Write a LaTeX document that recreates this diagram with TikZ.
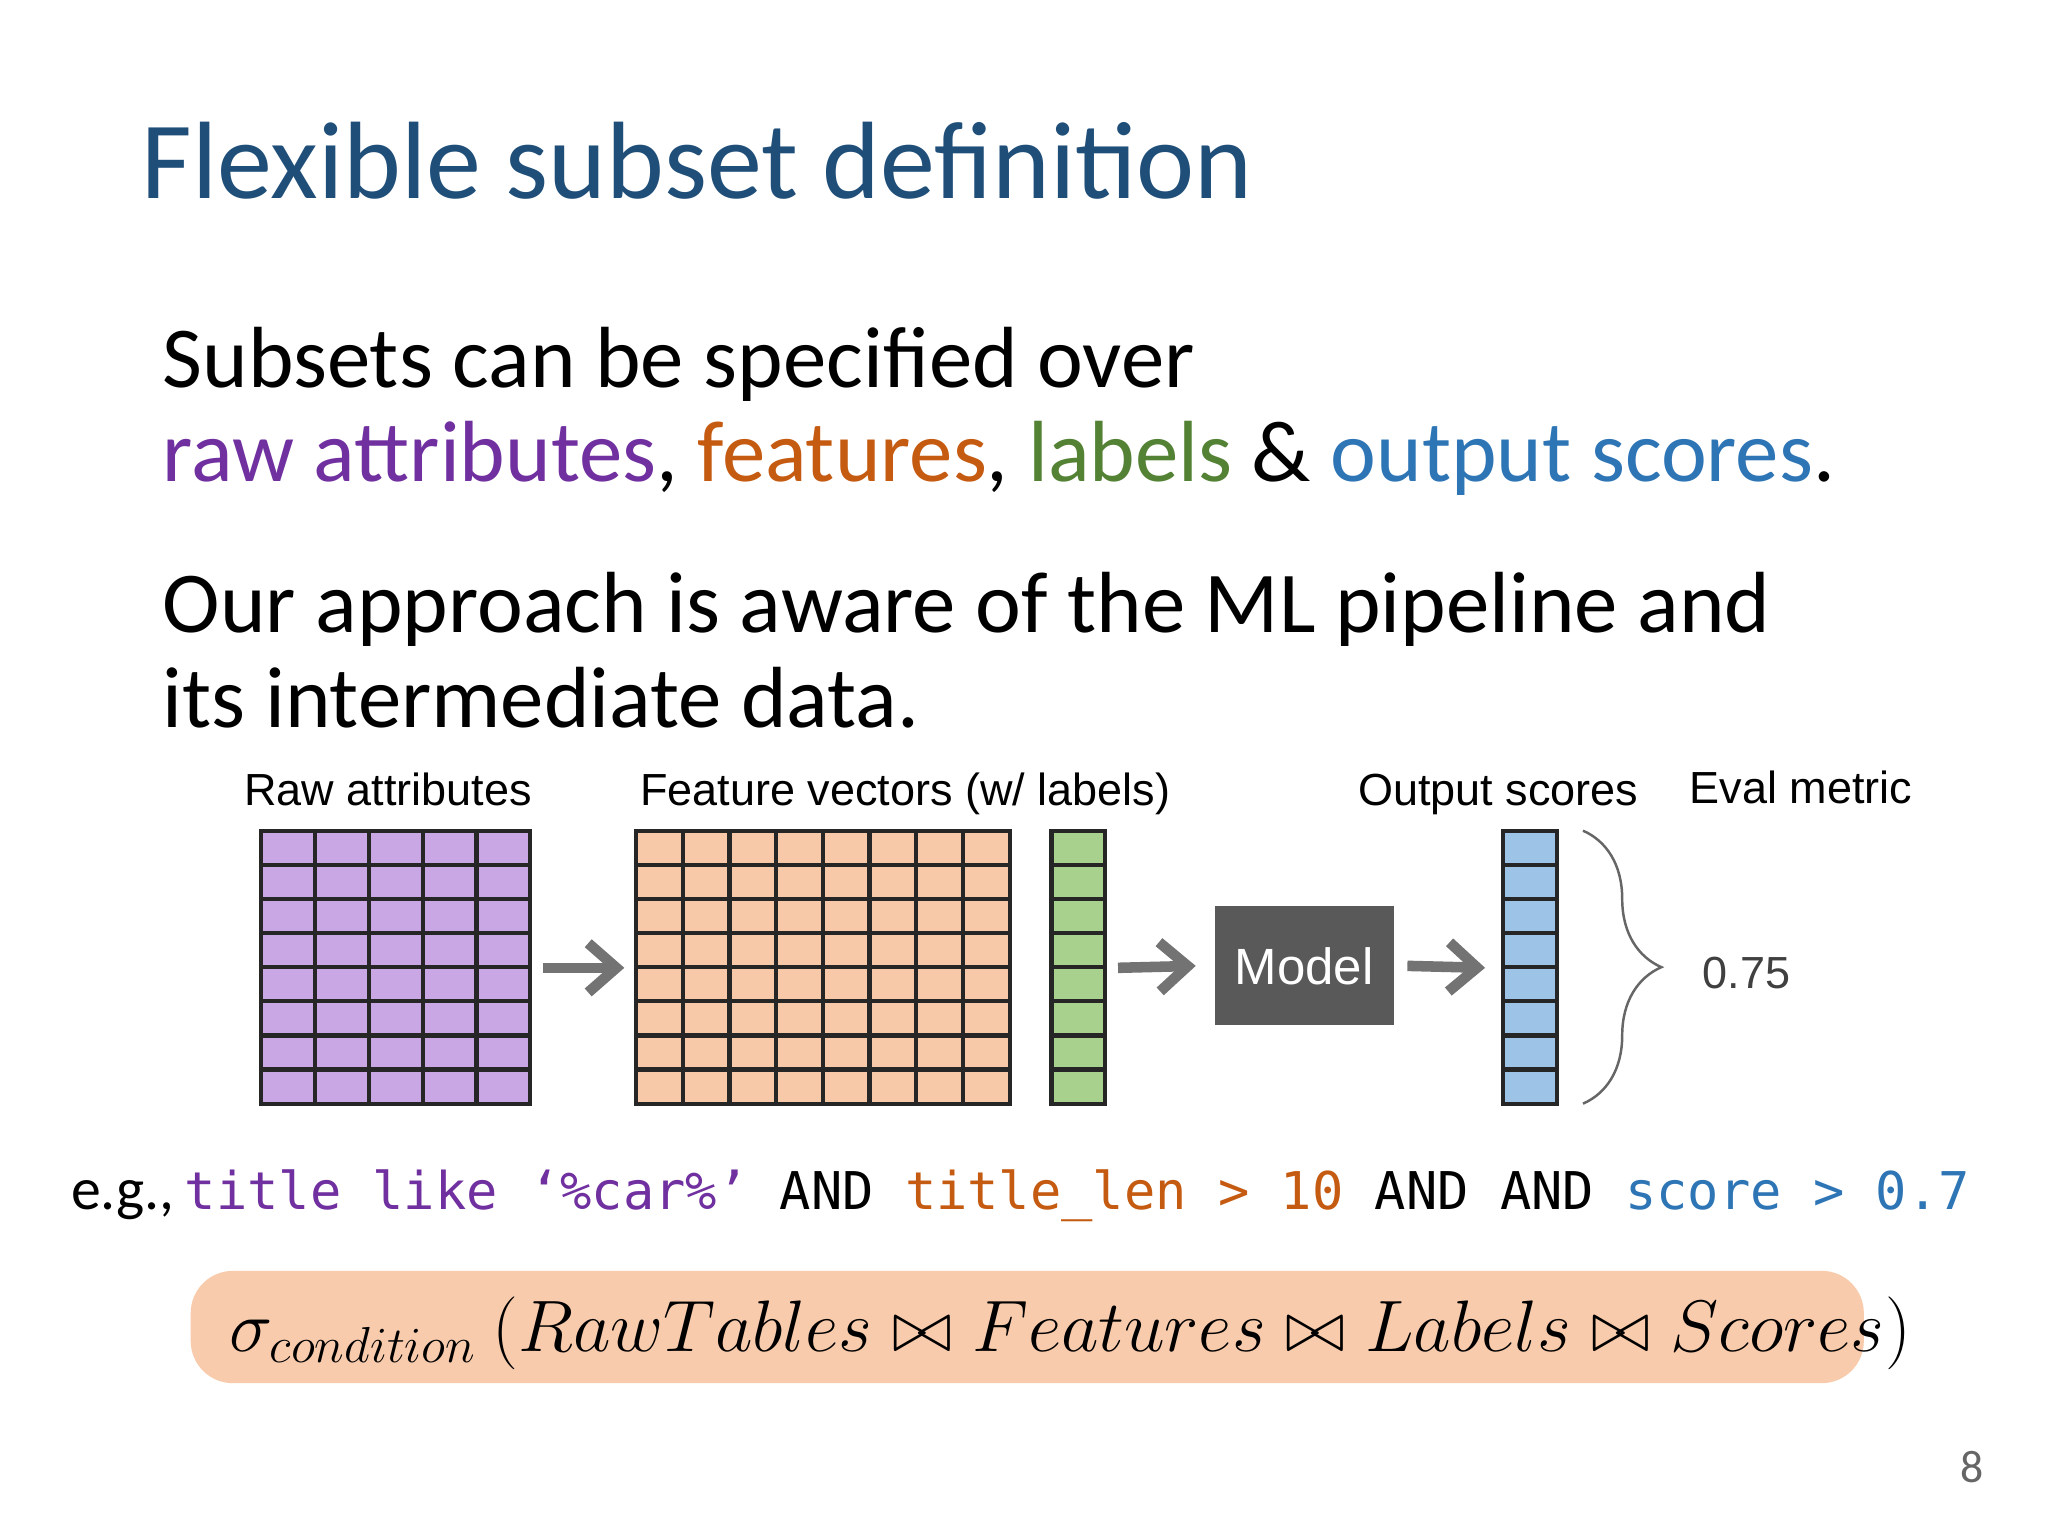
\documentclass[tikz,border=0pt]{standalone}
\usepackage{fontspec}
\setmainfont{Carlito}
\newfontfamily\arialf{Liberation Sans}
\newfontfamily\monof{DejaVu Sans Mono}
\usetikzlibrary{decorations.pathreplacing,arrows.meta}
\definecolor{ttl}{HTML}{1F4E79}
\definecolor{cpur}{HTML}{7030A0}
\definecolor{cora}{HTML}{C55A11}
\definecolor{cgrn}{HTML}{548235}
\definecolor{cblu}{HTML}{2E75B6}
\definecolor{fpur}{HTML}{C9A6E4}
\definecolor{fora}{HTML}{F7C9A8}
\definecolor{fgrn}{HTML}{A9D18E}
\definecolor{fblu}{HTML}{9DC3E6}
\definecolor{fbox}{HTML}{F8CBAD}
\tikzset{
  gridline/.style={draw=black!85,line width=1.2pt},
  garrow/.style={draw=black!55,line width=3pt,-{Straight Barb[length=8pt,width=14pt]}},
  lbl/.style={font=\arialf\fontsize{12.8}{14}\selectfont,anchor=base},
  body/.style={anchor=base west,inner sep=0pt,font=\fontsize{24.7}{30}\selectfont},
}
\begin{document}
\begin{tikzpicture}[x=0.013061cm,y=-0.013061cm]
\useasboundingbox[fill=white] (0,0) rectangle (1568,1176);
\node[anchor=base west,inner sep=0pt,text=ttl,font=\fontsize{31.3}{36}\selectfont] (title) at (108,152) {Flexible subset definition};
\node[body] (l1) at (124,297) {Subsets can be specified over};
\node[body] (l2) at (124,369) {\textcolor{cpur}{raw attributes}, \textcolor{cora}{features}, \textcolor{cgrn}{labels} \& \textcolor{cblu}{output scores}.};
\node[body] (l3) at (124,484) {Our approach is aware of the ML pipeline and};
\node[body] (l4) at (124,557) {its intermediate data.};
% labels
\node[lbl] (traw) at (297,617) {Raw attributes};
\node[lbl] (tfeat) at (693,617) {Feature vectors (w/ labels)};
\node[lbl] (tout) at (1147,617) {Output scores};
\node[lbl] (tev) at (1379,615) {Eval metric};
% grids
\filldraw[fill=fpur,gridline] (200,636) rectangle (406,845);
\foreach \i in {1,...,4} \draw[gridline] (200+\i*41.2,636) -- (200+\i*41.2,845);
\foreach \j in {1,...,7} \draw[gridline] (200,636+\j*26.125) -- (406,636+\j*26.125);
\filldraw[fill=fora,gridline] (487,636) rectangle (773,845);
\foreach \i in {1,...,7} \draw[gridline] (487+\i*35.75,636) -- (487+\i*35.75,845);
\foreach \j in {1,...,7} \draw[gridline] (487,636+\j*26.125) -- (773,636+\j*26.125);
\filldraw[fill=fgrn,gridline] (805,636) rectangle (846,845);
\foreach \j in {1,...,7} \draw[gridline] (805,636+\j*26.125) -- (846,636+\j*26.125);
\filldraw[fill=fblu,gridline] (1151,636) rectangle (1192,845);
\foreach \j in {1,...,7} \draw[gridline] (1151,636+\j*26.125) -- (1192,636+\j*26.125);
\coordinate (rawR) at (406,741); \coordinate (featL) at (487,741);
\coordinate (lblR) at (846,741); \coordinate (scL) at (1151,741);
\node[fill=black!65,text=white,minimum width=137*0.013061cm,minimum height=91*0.013061cm,inner sep=0pt,font=\arialf\fontsize{14.5}{16}\selectfont] (model) at (998.5,739.5) {Model};
\draw[garrow] ([xshift=10*0.013061cm]rawR) -- ([xshift=-9*0.013061cm]featL);
\draw[garrow] ([xshift=10*0.013061cm]lblR) -- ([xshift=-14*0.013061cm]model.west);
\draw[garrow] (model.east) ++(10*0.013061cm,0) -- ([xshift=-14*0.013061cm]scL);
\coordinate (bt) at (1212,636); \coordinate (bb) at (1212,845);
\draw[black!60,line width=0.7pt,decorate,decoration={brace,amplitude=60*0.013061cm,aspect=0.5}] (bt) -- (bb);
\node[anchor=base,font=\arialf\fontsize{12.8}{14}\selectfont,text=black!75] (metric) at (1337,757) {0.75};
% code line
\node[anchor=base west,inner sep=0pt,font=\fontsize{17}{18}\selectfont] (eg) at (54,926) {e.g.,\,{\monof\fontsize{14.8}{18}\selectfont\textcolor{cpur}{title like ‘\%car\%’} AND \textcolor{cora}{title\_len > 10} AND AND \textcolor{cblu}{score > 0.7}}};
% formula
\node[fill=fbox,rounded corners=12pt,minimum width=1281*0.013061cm,minimum height=86*0.013061cm,inner sep=0pt] (formula) at (786.5,1016) {};
\node[anchor=base west,inner sep=0pt,font=\fontsize{19.1}{24}\selectfont] (ftext) at (175,1035) {$\sigma_{condition}\ (RawTables \bowtie Features \bowtie Labels \bowtie Scores)$};
\node[anchor=base,text=black!60,font=\fontsize{13}{15}\selectfont] (pg) at (1510,1135) {8};
\end{tikzpicture}
\end{document}
